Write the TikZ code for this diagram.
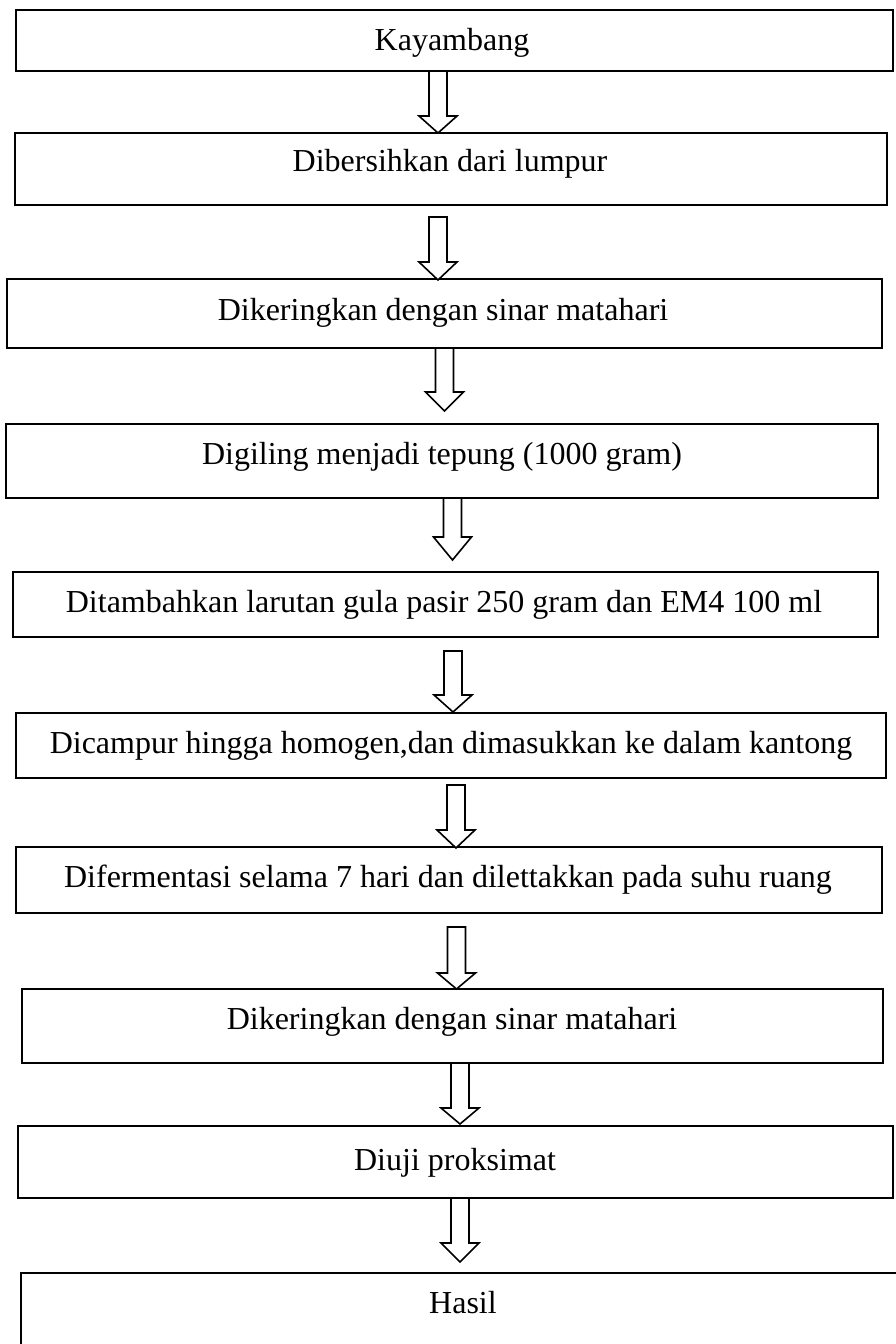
\documentclass[tikz,border=0pt]{standalone}
\usepackage{fontspec}
\setmainfont{Liberation Serif}
\usetikzlibrary{calc,fit}
\tikzset{
  stagebox/.style={draw, line width=2pt, rectangle, inner sep=0pt},
  stagetxt/.style={anchor=base, inner sep=0pt, font=\fontsize{32}{38}\selectfont},
  blockarrow/.style={draw, line width=1.6pt, fill=white, line join=miter},
}
\newcommand{\blockarr}[3]{%
  \draw[blockarrow] ($(#1)+(-9,0)$) -- ($(#1)+(9,0)$) -- ($(#2)+(9,-#3)$) -- ($(#2)+(19,-#3)$) -- (#2) -- ($(#2)+(-19,-#3)$) -- ($(#2)+(-9,-#3)$) -- cycle;}
\begin{document}
\begin{tikzpicture}[x=1pt,y=-1pt]
\useasboundingbox (0,0) rectangle (896,1344);
% boxes
\node[stagebox, fit={(16,10) (893,71)}] (b1) {};
\node[stagebox, fit={(15,133) (887,205)}] (b2) {};
\node[stagebox, fit={(7,279) (882,348)}] (b3) {};
\node[stagebox, fit={(6,424) (878,498)}] (b4) {};
\node[stagebox, fit={(13,572) (878,637)}] (b5) {};
\node[stagebox, fit={(16,713) (886,778)}] (b6) {};
\node[stagebox, fit={(16,847) (882,913)}] (b7) {};
\node[stagebox, fit={(22,989) (883,1063)}] (b8) {};
\node[stagebox, fit={(18,1126) (893,1198)}] (b9) {};
\node[stagebox, fit={(21,1273) (900,1360)}] (b10) {};
% texts
\node[stagetxt] (t1) at (452,50) {Kayambang};
\node[stagetxt] (t2) at (450,171) {Dibersihkan dari lumpur};
\node[stagetxt] (t3) at (443,320) {Dikeringkan dengan sinar matahari};
\node[stagetxt] (t4) at (442,464) {Digiling menjadi tepung (1000 gram)};
\node[stagetxt] (t5) at (444,612) {Ditambahkan larutan gula pasir 250 gram dan EM4 100 ml};
\node[stagetxt] (t6) at (451,753) {Dicampur hingga homogen,dan dimasukkan ke dalam kantong};
\node[stagetxt] (t7) at (448,887) {Difermentasi selama 7 hari dan dilettakkan pada suhu ruang};
\node[stagetxt] (t8) at (452,1029) {Dikeringkan dengan sinar matahari};
\node[stagetxt] (t9) at (455,1170) {Diuji proksimat};
\node[stagetxt] (t10) at (463,1313) {Hasil};
% arrow ends
\coordinate (a1s) at (438,71);   \coordinate (a1e) at (438,133);
\coordinate (a2s) at (438,217);  \coordinate (a2e) at (438,280);
\coordinate (a3s) at (444.5,348); \coordinate (a3e) at (444.5,411);
\coordinate (a4s) at (452.5,498); \coordinate (a4e) at (452.5,560);
\coordinate (a5s) at (453,651);  \coordinate (a5e) at (453,712);
\coordinate (a6s) at (456,785);  \coordinate (a6e) at (456,848);
\coordinate (a7s) at (456.5,927); \coordinate (a7e) at (456.5,989);
\coordinate (a8s) at (460,1063); \coordinate (a8e) at (460,1124);
\coordinate (a9s) at (460,1198); \coordinate (a9e) at (460,1262);
\blockarr{a1s}{a1e}{17}
\blockarr{a2s}{a2e}{18}
\blockarr{a3s}{a3e}{19}
\blockarr{a4s}{a4e}{23}
\blockarr{a5s}{a5e}{17}
\blockarr{a6s}{a6e}{18}
\blockarr{a7s}{a7e}{16}
\blockarr{a8s}{a8e}{16}
\blockarr{a9s}{a9e}{19}
\end{tikzpicture}
\end{document}
